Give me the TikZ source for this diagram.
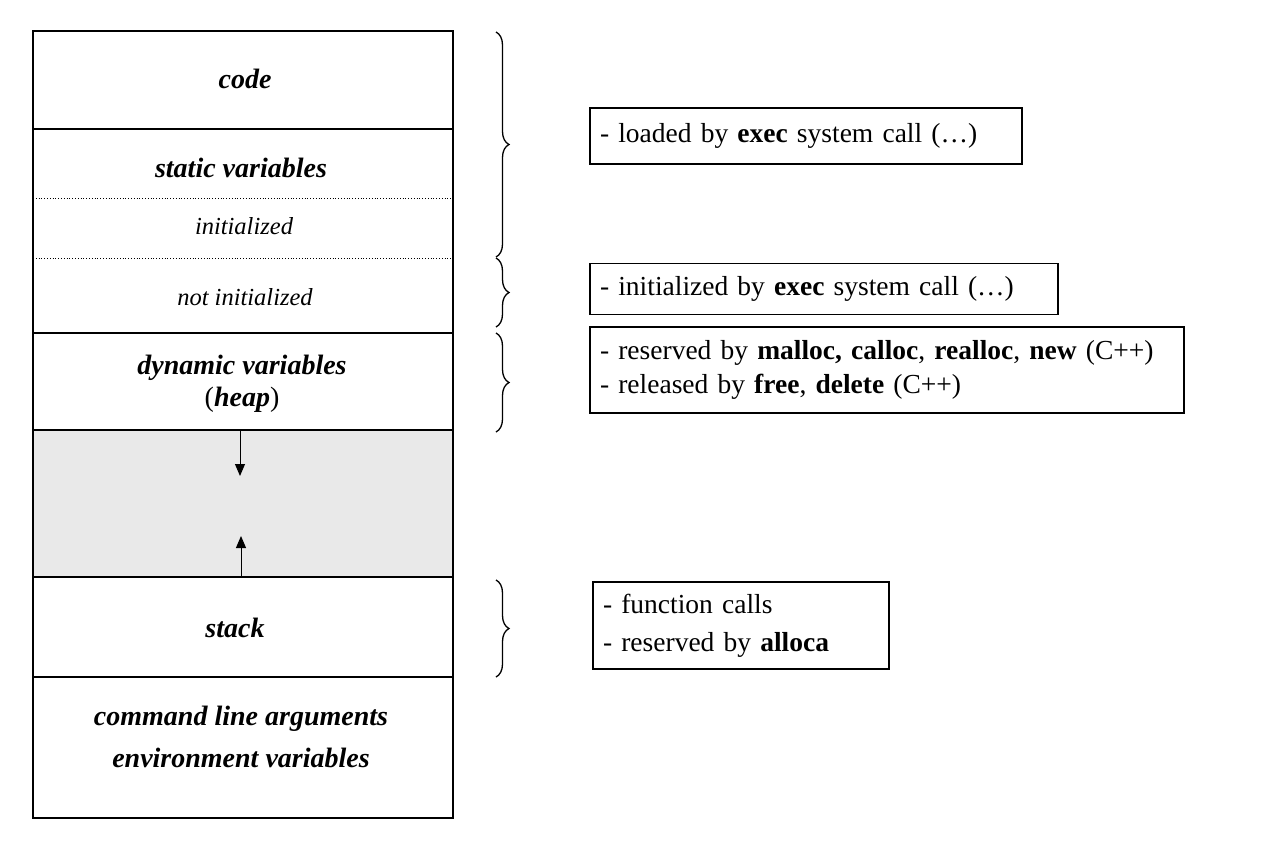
\documentclass[tikz,border=0pt]{standalone}
\usepackage{fontspec}
\setmainfont{Liberation Serif}
\usetikzlibrary{decorations.pathreplacing,arrows.meta}
\begin{document}
\begin{tikzpicture}[x=1pt,y=-1pt,
  seg/.style={font=\fontsize{28}{42}\selectfont\bfseries\itshape,align=center,inner sep=0pt},
  sub/.style={font=\fontsize{24.5}{28}\selectfont\itshape,inner sep=0pt},
  note/.style={draw,line width=1.2pt,align=left,inner xsep=10pt,inner ysep=0pt,
    font=\fontsize{27.5}{34}\selectfont},
  thickline/.style={line width=2.6pt},
  dotline/.style={line width=0.8pt,dotted},
  bracestyle/.style={decorate,decoration={brace,amplitude=13pt,raise=0pt},line width=1.3pt},
  growarrow/.style={line width=1pt,-{Triangle[length=12pt,width=10pt]}}]
\useasboundingbox (0,0) rectangle (1284,863);
% gray free area
\fill[gray!17] (33,430) rectangle (453,577);
% segment lines
\draw[thickline] (33,31) rectangle (453,818);
\draw[thickline] (33,129) -- (453,129);
\draw[thickline] (33,333) -- (453,333);
\draw[thickline] (33,430) -- (453,430);
\draw[thickline] (33,577) -- (453,577);
\draw[thickline] (33,677) -- (453,677);
\draw[dotline] (33,198) -- (453,198);
\draw[dotline] (33,258) -- (453,258);
% texts
\node[seg] (code) at (245,79) {code};
\node[seg] (static) at (241,168) {static variables};
\node[sub] (init) at (244,226) {initialized};
\node[sub] (notinit) at (245,297) {not initialized};
\node[seg,font=\fontsize{28}{32}\selectfont\bfseries\itshape] (dyn) at (242,384) {dynamic variables\\\textup{\textmd{(}}heap\textup{\textmd{)}}};
\node[seg] (stack) at (235,628) {stack};
\node[seg] (env) at (241,737) {command line arguments\\environment variables};
% growth arrows
\coordinate (heapbot) at (240,430);
\coordinate (heaptip) at (240,476);
\coordinate (stacktop) at (241,577);
\coordinate (stacktip) at (241,536);
\draw[growarrow] (heapbot) -- (heaptip);
\draw[growarrow] (stacktop) -- (stacktip);
% braces
\coordinate (b1t) at (496,32);
\coordinate (b1b) at (496,257);
\coordinate (b2t) at (496,258);
\coordinate (b2b) at (496,327);
\coordinate (b3t) at (496,333);
\coordinate (b3b) at (496,432);
\coordinate (b4t) at (496,580);
\coordinate (b4b) at (496,677);
\draw[bracestyle] (b1t) -- (b1b);
\draw[bracestyle] (b2t) -- (b2b);
\draw[bracestyle] (b3t) -- (b3b);
\draw[bracestyle] (b4t) -- (b4b);
% notes
\node[note,text width=412pt,minimum height=56pt] (n1) at (806,136) {- loaded by \textbf{exec} system call (\dots)};
\node[note,text width=448pt,minimum height=51pt] (n2) at (824,289) {- initialized by \textbf{exec} system call (\dots)};
\node[note,text width=574pt,minimum height=86pt] (n3) at (887,370) {- reserved by \textbf{malloc, calloc}, \textbf{realloc}, \textbf{new} (C++)\\- released by \textbf{free}, \textbf{delete} (C++)};
\node[note,text width=276pt,minimum height=87pt,font=\fontsize{27.5}{38}\selectfont] (n4) at (741,625.5) {- function calls\\- reserved by \textbf{alloca}};
\end{tikzpicture}
\end{document}
